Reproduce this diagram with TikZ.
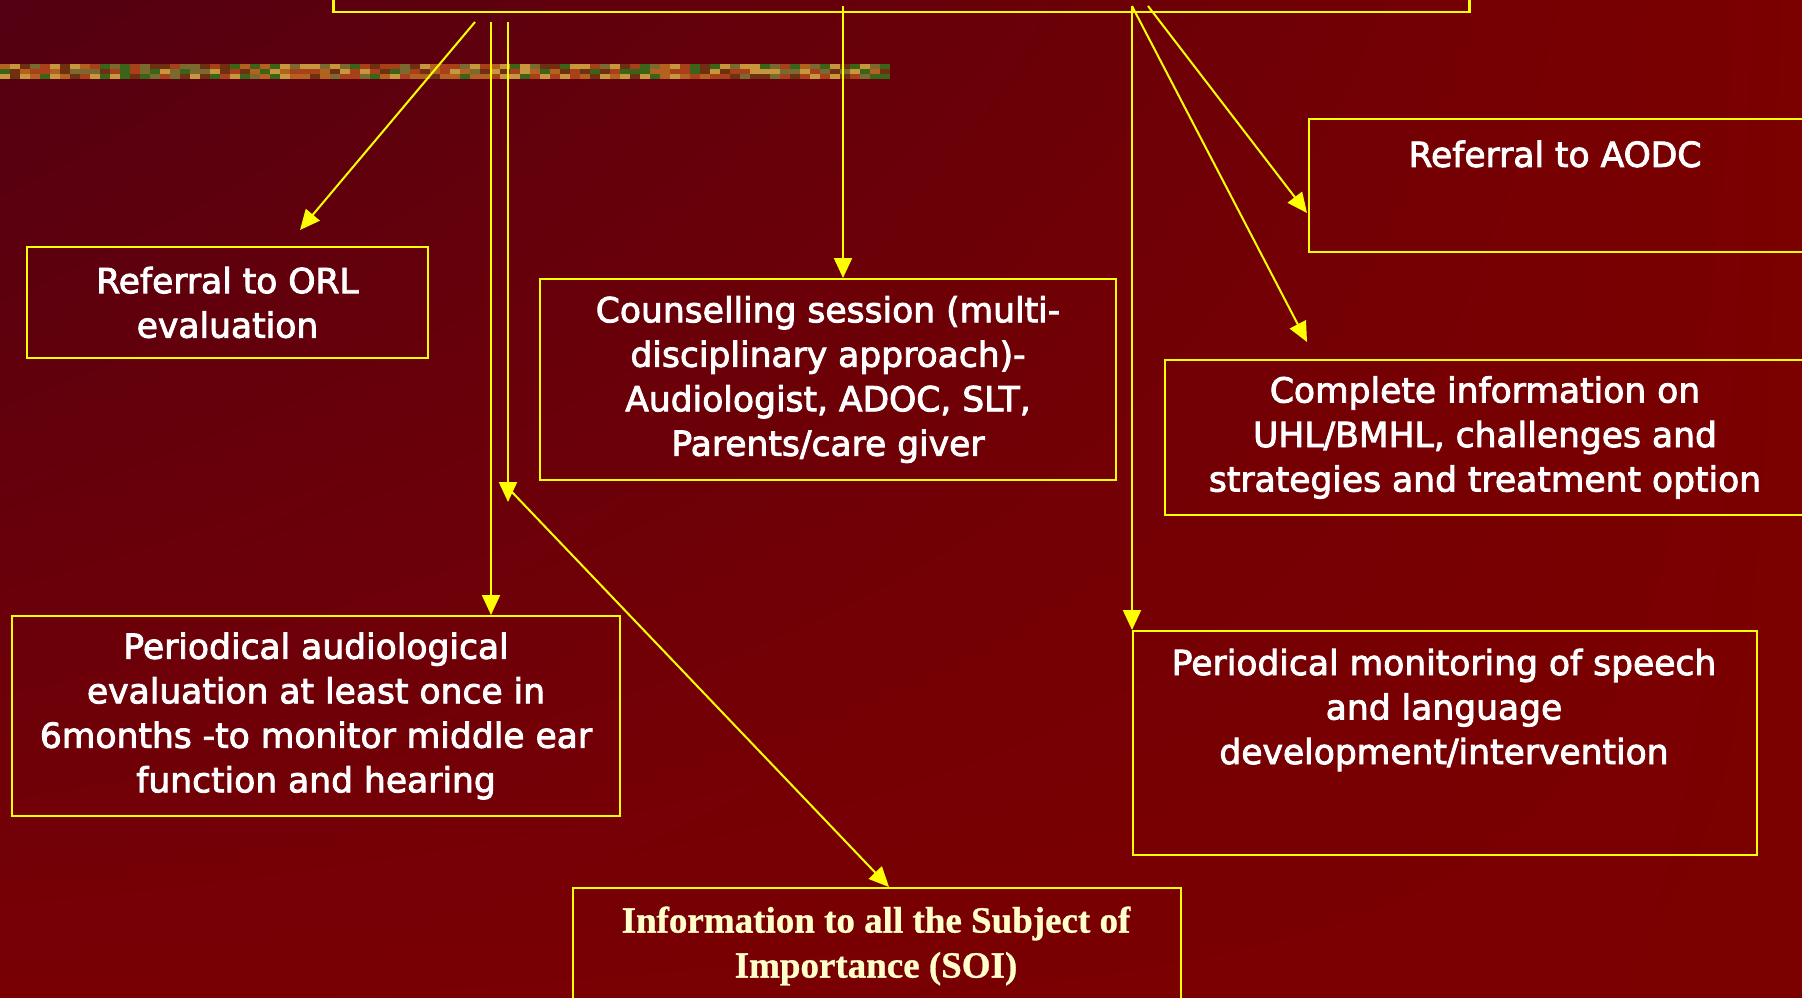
\documentclass[tikz,border=0pt]{standalone}
\usepackage{fontspec}
\setmainfont{DejaVu Sans}
\newfontfamily\bodyfont[FakeBold=2.6]{DejaVu Sans}
\newfontfamily\soifont[FakeBold=0.8]{Liberation Serif Bold}
\usetikzlibrary{arrows.meta,calc,shadings}
\definecolor{ylw}{RGB}{255,255,0}
\definecolor{bgUL}{RGB}{82,0,18}
\definecolor{bgUR}{RGB}{123,0,0}
\definecolor{bgLL}{RGB}{120,0,5}
\definecolor{bgLR}{RGB}{123,0,0}
\definecolor{cream}{RGB}{255,255,204}
\definecolor{tex1}{RGB}{180,96,30}
\definecolor{tex2}{RGB}{110,48,16}
\definecolor{tex3}{RGB}{60,100,24}
\definecolor{tex4}{RGB}{200,150,60}
\definecolor{tex5}{RGB}{168,64,26}
\definecolor{tex6}{RGB}{122,106,48}
\begin{document}
\begin{tikzpicture}[x=1pt,y=-1pt,
  box/.style={draw=ylw, line width=2pt, rectangle, inner sep=0pt, anchor=north west},
  txt/.style={text=white, font=\bodyfont\fontsize{34.5}{44.5}\selectfont, align=center},
  soitxt/.style={text=cream, font=\soifont\fontsize{37}{45}\selectfont, align=center, inner sep=0pt},
  arr/.style={draw=ylw, line width=2pt, -{Triangle[length=20pt,width=18pt]}}]
\useasboundingbox (0,0) rectangle (1802,997);
\shade[upper left=bgUL, upper right=bgUR, lower left=bgLL, lower right=bgLR] (0,0) rectangle (1802,997);
% textured strip
\pgfmathsetseed{42}
\foreach \i in {0,10,...,880} {
  \foreach \j in {64,69,74} {
    \pgfmathrandominteger{\r}{1}{6}
    \fill[tex\r] (\i,\j) rectangle ++(10,5);
  }
}
% top box
\node[draw=ylw, line width=2.5pt, rectangle, inner sep=0pt, anchor=south west,
      minimum width=1136pt, minimum height=60pt] (top) at (332,13) {};
% boxes
\node[box, txt, minimum width=401pt, minimum height=111pt] (orl) at (26,246)
  {Referral to ORL\\evaluation};
\node[box, txt, minimum width=576pt, minimum height=201pt] (cns) at (539,278)
  {Counselling session (multi-\\disciplinary approach)-\\Audiologist, ADOC, SLT,\\Parents/care giver};
\node[box, minimum width=510pt, minimum height=133pt] (aodc) at (1308,118) {};
\node[txt, inner sep=0pt] (aodct) at (1555,154) {Referral to AODC};
\node[box, txt, minimum width=640pt, minimum height=155pt] (info) at (1164,359)
  {Complete information on\\UHL/BMHL, challenges and\\strategies and treatment option};
\node[box, txt, minimum width=608pt, minimum height=200pt] (aud) at (11,615)
  {Periodical audiological\\evaluation at least once in\\6months -to monitor middle ear\\function and hearing};
\node[box, minimum width=624pt, minimum height=224pt] (mon) at (1132,630) {};
\node[txt, inner sep=0pt] (mont) at (1444,710)
  {Periodical monitoring of speech\\and language\\development/intervention};
\node[box, minimum width=608pt, minimum height=140pt] (soi) at (572,887) {};
\node[soitxt] (soit) at (876,946) {Information to all the Subject of\\Importance (SOI)};
% connector end points
\coordinate (s1) at (475,22);
\coordinate (s2) at (491,22);
\coordinate (s3) at (508,22);
\coordinate (e1) at (300,230);
\coordinate (e3) at (508,502);
\coordinate (d0) at (511,491);
\coordinate (e4) at (889,887);
\coordinate (s5) at (843,6);
\coordinate (s6) at (1132,6);
\coordinate (s8) at (1148,6);
\coordinate (e7) at (1307,342);
\coordinate (e8) at (1307,213);
% connectors
\draw[arr] (s1) -- (e1);
\draw[arr] (s2) -- (s2 |- aud.north);
\draw[arr] (s3) -- (e3);
\draw[arr] (d0) -- (e4);
\draw[arr] (s5) -- (s5 |- cns.north);
\draw[arr] (s6) -- (mon.north west);
\draw[arr] (s6) -- (e7);
\draw[arr] (s8) -- (e8);
\end{tikzpicture}
\end{document}
